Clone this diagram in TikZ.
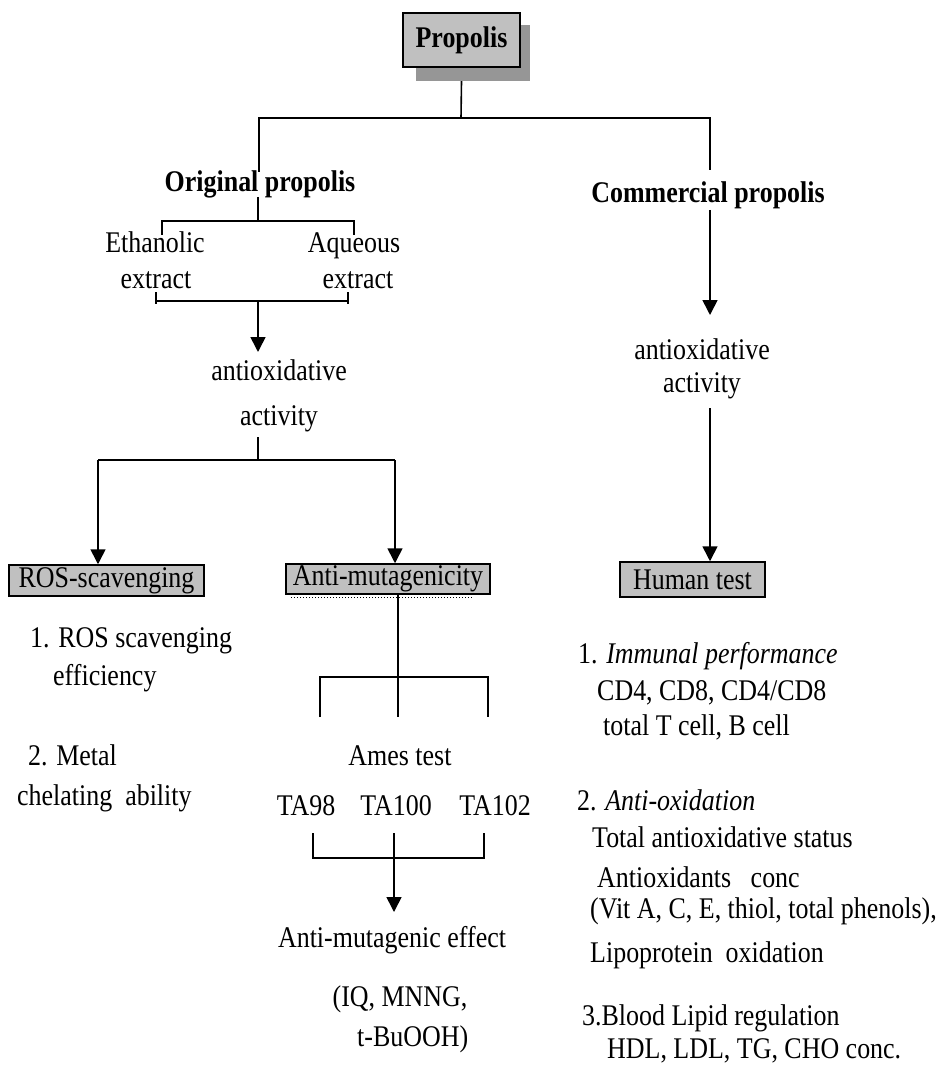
\documentclass[tikz,border=0pt]{standalone}
\usepackage{fontspec}
\setmainfont{Liberation Serif}[FakeStretch=0.865]
\usetikzlibrary{arrows.meta,calc}
\definecolor{boxgray}{HTML}{C0C0C0}
\definecolor{shadowgray}{HTML}{969696}
\begin{document}
\begin{tikzpicture}[x=1pt,y=-1pt,
  txt/.style={inner sep=0pt, font=\fontsize{30}{34}\selectfont},
  btxt/.style={inner sep=0pt, font=\fontsize{30}{34}\selectfont\bfseries},
  ln/.style={line width=1.6pt},
  arr/.style={line width=1.6pt, -{Triangle[length=15pt,width=15pt]}},
  graybox/.style={draw, line width=1.5pt, fill=boxgray, inner sep=0pt, font=\fontsize{30}{34}\selectfont}]
\useasboundingbox (0,0) rectangle (937,1067);

% --- top box
\node[fill=shadowgray, inner sep=0pt, minimum width=114pt, minimum height=56pt] (propshadow) at (473,53) {};
\node[graybox, minimum width=117pt, minimum height=54pt, font=\fontsize{30}{34}\selectfont\bfseries] (prop) at (461.5,40) {Propolis};

\coordinate (jtop) at (461,118);
\coordinate (jL) at (259,118);
\coordinate (jR) at (710,118);
\coordinate (jLe) at (259,172);
\coordinate (jRe) at (710,170);

\node[btxt, anchor=base] (orig) at (260,192) {Original propolis};
\node[btxt, anchor=base] (comm) at (708,203) {Commercial propolis};

\draw[ln] (prop.south |- propshadow.south) -- (jtop);
\draw[ln] (jLe) -- (jL) -- (jR) -- (jRe);

% --- original propolis branch
\node[txt, anchor=base] (eth) at (155,252) {Ethanolic};
\node[txt, anchor=base] (aq) at (354,252) {Aqueous};
\node[txt, anchor=base] (extL) at (156,288) {extract};
\node[txt, anchor=base] (extR) at (358,288) {extract};

\coordinate (oJs) at (258,197);
\coordinate (oJ) at (258,221);
\coordinate (oJL) at (162,221);
\coordinate (oJR) at (354,221);
\coordinate (oJLe) at (162,235);
\coordinate (oJRe) at (354,235);
\draw[ln] (oJs) -- (oJ);
\draw[ln] (oJLe) -- (oJL) -- (oJR) -- (oJRe);

\coordinate (bL) at (156,301);
\coordinate (bR) at (348,301);
\coordinate (bM) at (258,301);
\coordinate (bMe) at (258,352);
\draw[ln] (bL) -- (bR);
\draw[ln] (bL) ++(0,-9) -- ++(0,12);
\draw[ln] (bR) ++(0,-9) -- ++(0,12);

\node[txt, anchor=base] (aoxL) at (279,380) {antioxidative};
\node[txt, anchor=base] (actL) at (279,425) {activity};
\draw[arr] (bM) -- (bMe);

\coordinate (aJtop) at (258,437);
\coordinate (aJ) at (258,460);
\coordinate (aJL) at (98,460);
\coordinate (aJR) at (395,460);
\draw[ln] (aJtop) -- (aJ);
\draw[ln] (aJL) -- (aJR);

\node[graybox, minimum width=195pt, minimum height=31pt] (ros) at (106.5,580.5) {ROS-scavenging};
\node[graybox, minimum width=204pt, minimum height=30pt] (anti) at (388,579) {Anti-mutagenicity};
\draw[line width=1pt, dotted] ([yshift=-3pt]anti.south west) ++(6,0) -- ++(181,0);
\draw[arr] (aJL) -- (aJL |- ros.north);
\draw[arr] (aJR) -- (aJR |- anti.north);

% --- ROS list
\node[txt, anchor=base west] (r1) at (30,647) {1. ROS scavenging};
\node[txt, anchor=base west] (r1b) at (53,685) {efficiency};
\node[txt, anchor=base west] (r2) at (28,765) {2. Metal};
\node[txt, anchor=base west] (r2b) at (17,805) {chelating\ \ ability};

% --- anti-mutagenicity branch
\coordinate (mJ) at (398,677);
\coordinate (mJe) at (398,717);
\coordinate (mJL) at (320,677);
\coordinate (mJR) at (488,677);
\coordinate (mJLe) at (320,717);
\coordinate (mJRe) at (488,717);
\draw[ln] (mJ |- anti.south) -- (mJe);
\draw[ln] (mJLe) -- (mJL) -- (mJR) -- (mJRe);

\node[txt, anchor=base] (ames) at (400,765) {Ames test};
\node[txt, anchor=base] (ta98) at (306,815) {TA98};
\node[txt, anchor=base] (ta100) at (396,815) {TA100};
\node[txt, anchor=base] (ta102) at (495,815) {TA102};

\coordinate (tJ) at (394,858);
\coordinate (tJs) at (394,833);
\coordinate (tJL) at (313,858);
\coordinate (tJR) at (484,858);
\coordinate (tJLs) at (313,833);
\coordinate (tJRs) at (484,833);
\coordinate (tJe) at (394,912);
\draw[ln] (tJLs) -- (tJL) -- (tJR) -- (tJRs);
\draw[ln] (tJs) -- (tJ);

\node[txt, anchor=base] (eff) at (392,947) {Anti-mutagenic effect};
\node[txt, anchor=base] (iq) at (400,1006) {(IQ, MNNG,};
\node[txt, anchor=base west] (tbu) at (357,1046) {t-BuOOH)};
\draw[arr] (tJ) -- (tJe);

% --- commercial branch
\coordinate (cA) at (710,210);
\coordinate (cAe) at (710,315);
\coordinate (cB) at (710,408);
\node[txt, anchor=base] (aoxR) at (702,359) {antioxidative};
\node[txt, anchor=base] (actR) at (702,392) {activity};
\draw[arr] (cA) -- (cAe);

\node[graybox, minimum width=145pt, minimum height=35pt] (human) at (692.5,579.5) {Human test};
\draw[arr] (cB) -- (cB |- human.north);

% --- human list
\node[txt, anchor=base west] (h1) at (578,663) {1. \textit{Immunal performance}};
\node[txt, anchor=base west] (h1a) at (597,700) {CD4, CD8, CD4/CD8};
\node[txt, anchor=base west] (h1b) at (603,735) {total T cell, B cell};
\node[txt, anchor=base west] (h2) at (577,810) {2. \textit{Anti-oxidation}};
\node[txt, anchor=base west] (h2a) at (592,847) {Total\ antioxidative status};
\node[txt, anchor=base west] (h2b) at (597,887) {Antioxidants\ \ \ conc};
\node[txt, anchor=base west] (h2c) at (590,918) {(Vit A, C, E, thiol, total phenols),};
\node[txt, anchor=base west] (h2d) at (590,962) {Lipoprotein\ \ oxidation};
\node[txt, anchor=base west] (h3) at (582,1025) {3.Blood Lipid regulation};
\node[txt, anchor=base west] (h3a) at (607,1058) {HDL, LDL, TG, CHO conc.};
\end{tikzpicture}
\end{document}
